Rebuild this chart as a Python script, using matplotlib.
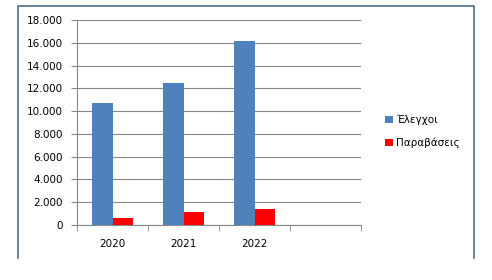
import numpy as np
import matplotlib
matplotlib.use("Agg")
import matplotlib.pyplot as plt
from matplotlib.lines import Line2D
from matplotlib.ticker import FuncFormatter

# data
categories = ["2020", "2021", "2022", ""]
elegxoi = [10700, 12500, 16200, np.nan]
paravaseis = [620, 1150, 1400, np.nan]
series_names = ["Έλεγχοι", "Παραβάσεις"]

BLUE = "#4F81BD"
RED = "#FF0000"
GRID = "#878787"

plt.rcParams["font.family"] = ["DejaVu Sans"]
plt.rcParams["font.size"] = 7.5

fig = plt.figure(figsize=(4.92, 2.80), dpi=100)
ax = fig.add_axes([77 / 492, 55 / 280, 284 / 492, 205 / 280])

x = np.arange(len(categories))
w = 0.29
ax.bar(x - w / 2, elegxoi, width=w, color=BLUE, label=series_names[0], zorder=3)
ax.bar(x + w / 2, paravaseis, width=w, color=RED, label=series_names[1], zorder=3)

ax.set_xlim(-0.5, len(categories) - 0.5)
ax.set_ylim(0, 18000)
ax.set_yticks(np.arange(0, 18001, 2000))
ax.yaxis.set_major_formatter(FuncFormatter(lambda v, p: f"{int(v):,}".replace(",", ".")))
ax.yaxis.grid(True, color=GRID, linewidth=0.8, zorder=0)

ax.set_xticks(x)
ax.set_xticklabels(categories)
ax.set_xticks(np.arange(-0.5, len(categories)), minor=True)
ax.tick_params(axis="x", which="major", length=0, pad=10)
ax.tick_params(axis="x", which="minor", length=4, color=GRID, direction="out")
ax.tick_params(axis="y", length=4, color=GRID, pad=6)

for s in ["top", "right"]:
    ax.spines[s].set_visible(False)
for s in ["left", "bottom"]:
    ax.spines[s].set_color(GRID)
    ax.spines[s].set_linewidth(0.8)

fig.legend(loc="center left", bbox_to_anchor=(376 / 492, 1 - 131.5 / 280),
           frameon=False, handlelength=0.7, handleheight=0.7, handletextpad=0.3,
           labelspacing=1.2, fontsize=7.5)

# chart-area border (left, top, right; bottom cut off in the reference)
bc = "#4A6C8C"
fig.add_artist(Line2D([18 / 492, 18 / 492, 474 / 492, 474 / 492],
                      [1 - 258 / 280, 1 - 6 / 280, 1 - 6 / 280, 1 - 258 / 280],
                      transform=fig.transFigure, color=bc, linewidth=1.2))

fig.savefig("out.png", dpi=100)
